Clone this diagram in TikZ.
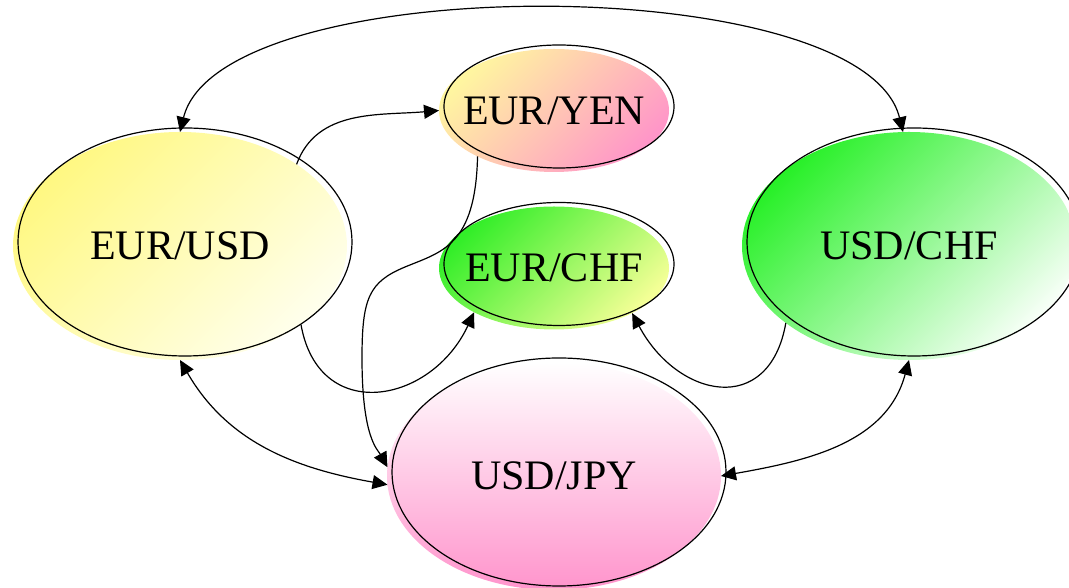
\documentclass[tikz,border=0pt]{standalone}
\usepackage{fontspec}
\setmainfont{Liberation Serif}
\usetikzlibrary{positioning,shapes.geometric,arrows.meta}

\definecolor{usdA}{RGB}{255,248,130}
\definecolor{usdB}{RGB}{255,255,236}
\definecolor{yenA}{RGB}{255,246,160}
\definecolor{yenB}{RGB}{255,150,200}
\definecolor{chfA}{RGB}{50,238,40}
\definecolor{chfB}{RGB}{244,255,150}
\definecolor{swissA}{RGB}{40,240,40}
\definecolor{swissB}{RGB}{246,255,246}
\definecolor{jpyA}{RGB}{255,255,255}
\definecolor{jpyB}{RGB}{255,148,204}

\tikzset{
  pair/.style={ellipse, inner sep=0pt, inner xsep=-25pt, outer sep=0pt,
    font=\fontsize{42}{50}\selectfont,
    postaction={draw, line width=1.2pt, transform canvas={shift={(5pt,4pt)}}}},
  major/.style={pair, minimum width=334pt, minimum height=228pt},
  cross/.style={pair, minimum width=230pt, minimum height=123pt},
  usdfill/.style={top color=usdA, bottom color=usdB, shading angle=45},
  yenfill/.style={top color=yenA, bottom color=yenB, shading angle=45},
  chffill/.style={top color=chfA, bottom color=chfB, shading angle=45},
  swissfill/.style={top color=swissA, bottom color=swissB, shading angle=45},
  jpyfill/.style={top color=jpyA, bottom color=jpyB},
  link/.style={line width=1.2pt, -{Triangle[length=15pt,width=14pt]}},
  twoway/.style={line width=1.2pt, {Triangle[length=15pt,width=14pt]}-{Triangle[length=15pt,width=14pt]}}
}

\begin{document}
\begin{tikzpicture}[x=1pt, y=1pt]
    \useasboundingbox (0,0) rectangle (1069,588);

        % Nodes

        \node[major, usdfill] (eurusd) at (180,342) {EUR/USD};
        \node[cross, yenfill] (euryen) at (554,477.5) {EUR/YEN};
        \node[cross, chffill, below=34.5pt of euryen] (eurchf) {EUR/CHF};
        \node[major, jpyfill, below=32.5pt of eurchf] (usdjpy) {USD/JPY};
        \node[major, swissfill] (usdchf) at (909,342) {USD/CHF};

        % Edges

        \draw[twoway] (eurusd.north) .. controls +(40,163) and +(-40,163) .. (usdchf.93);
        \draw[link] (eurusd.35) to[out=70, in=185] (euryen.west);
        \draw[link] (eurusd.-33) to[out=-80, in=-115, looseness=1.5] (eurchf.209);
        \draw[link] (euryen.211) .. controls +(-2,-90) and +(36,15) .. (405,321)
            .. controls +(-36,-15) and +(0,60) .. (362,230)
            .. controls +(0,-80) and +(-10,18) .. (usdjpy.177);
        \draw[twoway] (eurusd.south) to[out=-60, in=170] (usdjpy.183);
        \draw[twoway] (usdchf.south) to[out=-105, in=10] (usdjpy.east);
        \draw[link] (usdchf.212) to[out=-100, in=-62, looseness=1.6] (eurchf.-30);

\end{tikzpicture}
\end{document}
